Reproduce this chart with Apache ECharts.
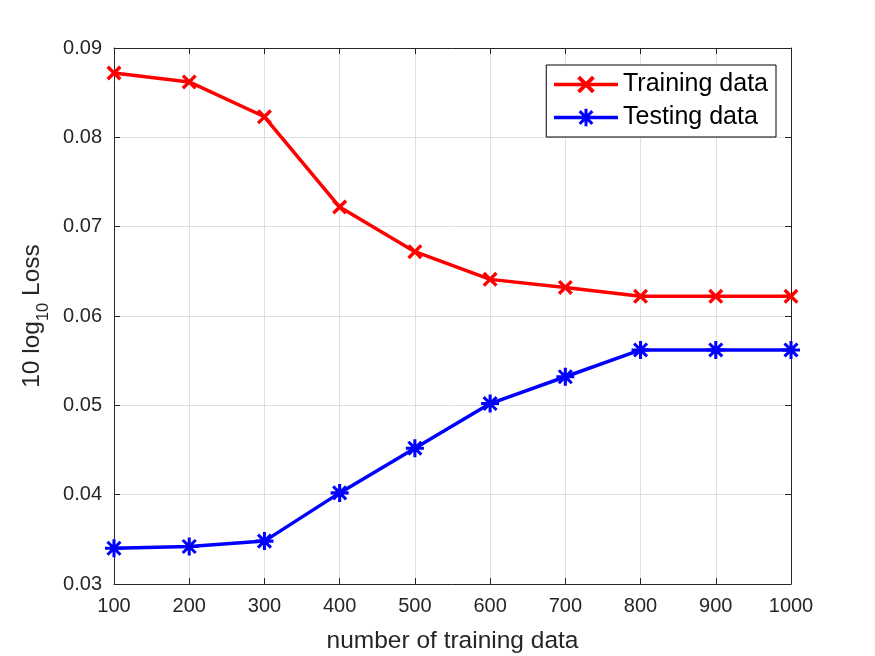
<!DOCTYPE html>
<html lang="en">
<head>
    <meta charset="UTF-8">
    <title>Loss</title>
    <style>
        html, body { margin: 0; padding: 0; background: #fff; }
        #main { width: 875px; height: 656px; }
    </style>
    <script src="https://cdn.jsdelivr.net/npm/echarts@6/dist/echarts.min.js"></script>
</head>
<body>
    <div id="main"></div>
</body>
<script>
    var chart = echarts.init(document.getElementById('main'));

    // 数据
    var xData = [100, 200, 300, 400, 500, 600, 700, 800, 900, 1000];
    var trainData = [0.0872, 0.0862, 0.0823, 0.0722, 0.0672, 0.0641, 0.0632, 0.0622, 0.0622, 0.0622];
    var testData = [0.0340, 0.0342, 0.0348, 0.0402, 0.0452, 0.0502, 0.0532, 0.0562, 0.0562, 0.0562];

    function pairs(ys) {
        return xData.map(function (x, i) { return [x, ys[i]]; });
    }

    // 标记形状
    var crossPath = 'path://M3.2,0 L20,16.8 L16.8,20 L0,3.2 Z M16.8,0 L20,3.2 L3.2,20 L0,16.8 Z';
    var starPath = 'path://M4,1.6 L18.4,16 L16,18.4 L1.6,4 Z M16,1.6 L18.4,4 L4,18.4 L1.6,16 Z ' +
        'M0,8.3 L20,8.3 L20,11.7 L0,11.7 Z M8.3,0 L11.7,0 L11.7,20 L8.3,20 Z';

    var font = 'Liberation Sans, Arial, Helvetica, sans-serif';
    var gridLine = { show: true, lineStyle: { color: '#dfdfdf', width: 1 } };

    var option = {
        animation: false,
        textStyle: { fontFamily: font },
        grid: { left: 114, right: 84, top: 48, bottom: 72, outerBoundsMode: 'none', containLabel: false },
        legend: {
            orient: 'vertical',
            right: 99,
            top: 65,
            backgroundColor: '#fff',
            borderColor: '#000',
            borderWidth: 1,
            padding: [7, 8, 7, 6],
            itemGap: 8,
            itemWidth: 64,
            itemHeight: 22,
            lineStyle: { width: 3.5 },
            textStyle: { fontSize: 25, color: '#000', fontFamily: font },
            data: ['Training data', 'Testing data']
        },
        xAxis: [{
            type: 'value',
            min: 100,
            max: 1000,
            interval: 100,
            name: 'number of training data',
            nameLocation: 'middle',
            nameGap: 45,
            nameTextStyle: { fontSize: 24.5, color: '#262626' },
            axisLine: { lineStyle: { color: '#262626', width: 1 } },
            axisTick: { inside: true, length: 6, lineStyle: { color: '#262626' } },
            axisLabel: {
                fontSize: 20, color: '#262626', margin: 12,
                formatter: function (v) { return String(v); }
            },
            splitLine: gridLine
        }, {
            type: 'value',
            position: 'top',
            min: 100,
            max: 1000,
            interval: 100,
            axisLine: { show: true, lineStyle: { color: '#262626', width: 1 } },
            axisTick: { show: true, inside: true, length: 6, lineStyle: { color: '#262626' } },
            axisLabel: { show: false },
            splitLine: { show: false }
        }],
        yAxis: [{
            type: 'value',
            min: 0.03,
            max: 0.09,
            interval: 0.01,
            name: '{a|10 log}{b|10}{a| Loss}',
            nameLocation: 'middle',
            nameGap: 66,
            nameTextStyle: {
                rich: {
                    a: { fontSize: 24.5, color: '#262626', fontFamily: font, verticalAlign: 'bottom', lineHeight: 32 },
                    b: { fontSize: 16.5, color: '#262626', fontFamily: font, verticalAlign: 'bottom', lineHeight: 24, padding: [0, 0, -7, 0] }
                }
            },
            axisLine: { show: true, lineStyle: { color: '#262626', width: 1 } },
            axisTick: { show: true, inside: true, length: 6, lineStyle: { color: '#262626' } },
            axisLabel: {
                fontSize: 20, color: '#262626', margin: 12,
                formatter: function (v) { return v.toFixed(2); }
            },
            splitLine: gridLine
        }, {
            type: 'value',
            position: 'right',
            min: 0.03,
            max: 0.09,
            interval: 0.01,
            axisLine: { show: true, lineStyle: { color: '#262626', width: 1 } },
            axisTick: { show: true, inside: true, length: 6, lineStyle: { color: '#262626' } },
            axisLabel: { show: false },
            splitLine: { show: false }
        }],
        series: [{
            name: 'Training data',
            type: 'line',
            data: pairs(trainData),
            symbol: crossPath,
            symbolSize: 15,
            showAllSymbol: true,
            lineStyle: { color: '#ff0000', width: 3.5 },
            itemStyle: { color: '#ff0000' }
        }, {
            name: 'Testing data',
            type: 'line',
            data: pairs(testData),
            symbol: starPath,
            symbolSize: 18,
            showAllSymbol: true,
            lineStyle: { color: '#0000ff', width: 3.5 },
            itemStyle: { color: '#0000ff' }
        }]
    };

    chart.setOption(option);
</script>
</html>
